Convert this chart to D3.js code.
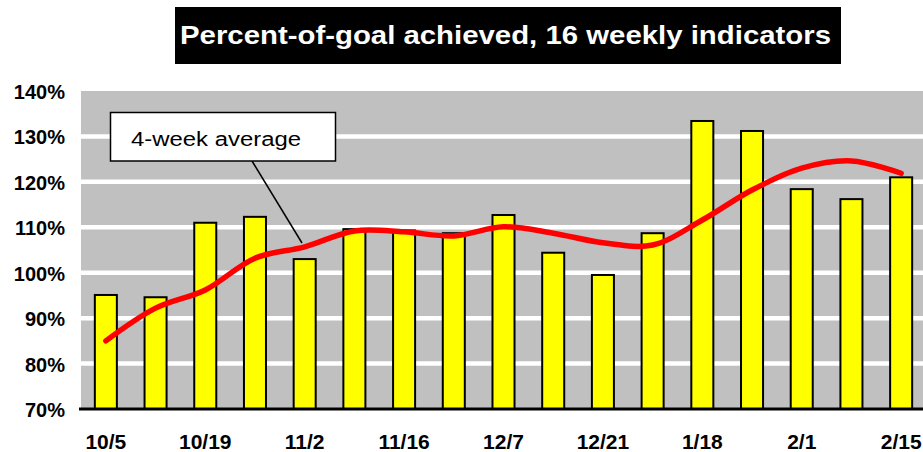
<!DOCTYPE html>
<html>
<head>
<meta charset="utf-8">
<script src="https://cdn.jsdelivr.net/npm/d3@7/dist/d3.min.js"></script>
<style>
  body { margin: 0; background: #fff; }
  svg { display: block; font-family: "Liberation Sans", Arial, sans-serif; }
</style>
</head>
<body>
<div id="chart"></div>
<script>
// weekly data
const weeks = ["10/5", "10/12", "10/19", "10/26", "11/2", "11/9", "11/16", "11/30",
  "12/7", "12/14", "12/21", "1/11", "1/18", "1/25", "2/1", "2/8", "2/15"];
const weekLabels = ["10/5", "10/19", "11/2", "11/16", "12/7", "12/21", "1/18", "2/1", "2/15"];
const pctOfGoal = [95.1, 94.6, 111.0, 112.3, 103.0, 109.6, 109.3, 108.7,
  112.7, 104.4, 99.5, 108.7, 133.4, 131.2, 118.4, 116.2, 121.0];
const fourWeekAvg = [85.0, 92.2, 96.2, 103.2, 105.7, 109.2, 109.0, 108.1,
  110.1, 108.7, 106.6, 106.1, 111.6, 118.2, 123.0, 124.6, 121.9];
const yTicks = [70, 80, 90, 100, 110, 120, 130, 140];

const width = 923, height = 452;
const plot = { left: 81, right: 926, top: 91, bottom: 409 };

const svg = d3.select("#chart").append("svg")
  .attr("width", width)
  .attr("height", height);

const x = d3.scaleBand()
  .domain(weeks)
  .range([plot.left, plot.right])
  .paddingInner(0.557)
  .paddingOuter(0.2785);

const y = d3.scaleLinear()
  .domain([70, 140])
  .range([plot.bottom, plot.top]);

// gray plot area
svg.append("rect")
  .attr("x", plot.left)
  .attr("y", plot.top)
  .attr("width", width - plot.left)
  .attr("height", plot.bottom - plot.top)
  .attr("fill", "#c0c0c0");

// white gridlines
svg.append("g")
  .selectAll("line")
  .data(yTicks.filter(t => t > 70 && t < 140))
  .join("line")
  .attr("x1", plot.left)
  .attr("x2", width)
  .attr("y1", d => y(d))
  .attr("y2", d => y(d))
  .attr("stroke", "#fff")
  .attr("stroke-width", 4.5);

// y labels
svg.append("g")
  .selectAll("text")
  .data(yTicks)
  .join("text")
  .attr("x", 65)
  .attr("y", d => y(d) + 1)
  .attr("text-anchor", "end")
  .attr("dominant-baseline", "central")
  .attr("font-size", 20)
  .attr("font-weight", "bold")
  .text(d => d + "%");

// bars
svg.append("g")
  .selectAll("rect")
  .data(pctOfGoal)
  .join("rect")
  .attr("x", (d, i) => x(weeks[i]))
  .attr("y", d => y(d))
  .attr("width", x.bandwidth())
  .attr("height", d => y(70) - y(d))
  .attr("fill", "#ffff00")
  .attr("stroke", "#000")
  .attr("stroke-width", 2);

// x axis line
svg.append("line")
  .attr("x1", plot.left - 2)
  .attr("x2", width)
  .attr("y1", y(70))
  .attr("y2", y(70))
  .attr("stroke", "#000")
  .attr("stroke-width", 3);

// x labels
svg.append("g")
  .selectAll("text")
  .data(weekLabels)
  .join("text")
  .attr("x", d => x(d) + x.bandwidth() / 2)
  .attr("y", 449)
  .attr("text-anchor", "middle")
  .attr("font-size", 21)
  .attr("font-weight", "bold")
  .text(d => d);

// 4-week average line
const line = d3.line()
  .x((d, i) => x(weeks[i]) + x.bandwidth() / 2)
  .y(d => y(d))
  .curve(d3.curveCatmullRom);

svg.append("path")
  .datum(fourWeekAvg)
  .attr("d", line)
  .attr("fill", "none")
  .attr("stroke", "#ff0000")
  .attr("stroke-width", 5.5)
  .attr("stroke-linecap", "round")
  .attr("stroke-linejoin", "round");

// callout box
svg.append("line")
  .attr("x1", 252).attr("y1", 161)
  .attr("x2", 302).attr("y2", 243)
  .attr("stroke", "#000")
  .attr("stroke-width", 1.5);

svg.append("rect")
  .attr("x", 110.5)
  .attr("y", 112.5)
  .attr("width", 225)
  .attr("height", 48.5)
  .attr("fill", "#fff")
  .attr("stroke", "#000")
  .attr("stroke-width", 1.5);

svg.append("text")
  .attr("x", 131)
  .attr("y", 145.5)
  .attr("font-size", 20)
  .attr("textLength", 170)
  .attr("lengthAdjust", "spacingAndGlyphs")
  .text("4-week average");

// title
svg.append("rect")
  .attr("x", 175)
  .attr("y", 7)
  .attr("width", 666)
  .attr("height", 57)
  .attr("fill", "#000");

svg.append("text")
  .attr("x", 180)
  .attr("y", 44)
  .attr("font-size", 26)
  .attr("font-weight", "bold")
  .attr("fill", "#fff")
  .attr("textLength", 651)
  .attr("lengthAdjust", "spacingAndGlyphs")
  .text("Percent-of-goal achieved, 16 weekly indicators");
</script>
</body>
</html>
